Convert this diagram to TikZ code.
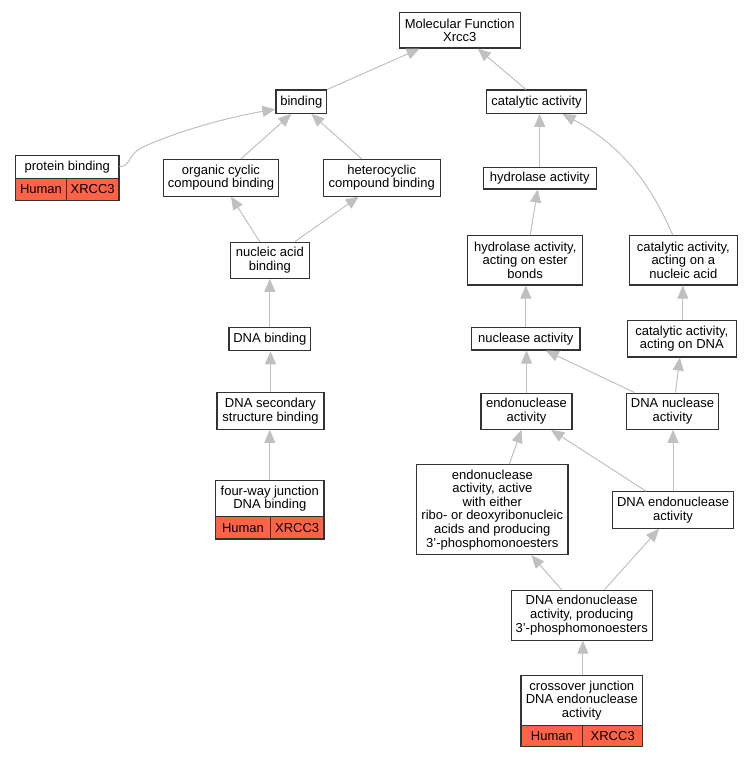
\documentclass[tikz,border=0pt]{standalone}
\usepackage{fontspec}
\setmainfont{Liberation Sans}
\usetikzlibrary{arrows.meta,calc}
\definecolor{edgegray}{HTML}{C0C0C0}
\definecolor{boxline}{HTML}{333333}
\definecolor{hitred}{HTML}{FF6347}
\begin{document}
\begin{tikzpicture}[x=1pt,y=-1pt,
  box/.style={draw=boxline,line width=1.1pt,fill=white,inner sep=0pt,align=center,
    font=\fontsize{13}{13.6}\selectfont},
  cell/.style={draw=boxline,line width=1.1pt,fill=hitred,inner sep=0pt,align=center,
    font=\fontsize{13}{13.6}\selectfont},
  isa/.style={draw=edgegray,line width=1pt,-{Triangle[length=13pt,width=11pt]},color=edgegray}]
\useasboundingbox (0,0) rectangle (752,757);
% left branch
\node[box,minimum width=120.7,minimum height=35.7] (mf) at (459.7,30.2) {Molecular Function\\Xrcc3};
\node[box,minimum width=50.7,minimum height=23.3] (bind) at (301.3,101.7) {binding};
\node[box,minimum width=100.4,minimum height=23.3] (cat) at (536.5,101.7) {catalytic activity};
\node[box,minimum width=103.3,minimum height=23] (pb) at (67.3,166.8) {protein binding};
\node[cell,minimum width=50.6,minimum height=21.7] (pbh) at (41,189.2) {Human};
\node[cell,minimum width=52.7,minimum height=21.7] (pbx) at (92.65,189.2) {XRCC3};
\node[box,minimum width=115.4,minimum height=36.7] (org) at (221,177.7) {organic cyclic\\compound binding};
\node[box,minimum width=116.7,minimum height=36.7] (het) at (381.7,177.7) {heterocyclic\\compound binding};
\node[box,minimum width=79,minimum height=36] (nab) at (269.8,260.3) {nucleic acid\\binding};
\node[box,minimum width=81.7,minimum height=23] (dnab) at (269.8,339.2) {DNA binding};
\node[box,minimum width=107,minimum height=36.6] (dss) at (270.5,411) {DNA secondary\\structure binding};
\node[box,minimum width=108.3,minimum height=36] (fw) at (269.8,498.7) {four-way junction\\DNA binding};
\node[cell,minimum width=54.6,minimum height=22.3] (fwh) at (243,527.8) {Human};
\node[cell,minimum width=53.7,minimum height=22.3] (fwx) at (297.15,527.8) {XRCC3};
% right branch
\node[box,minimum width=112.7,minimum height=21.5] (hyd) at (539.7,178.2) {hydrolase activity};
\node[box,minimum width=115,minimum height=49.3] (hest) at (525.2,260.3) {hydrolase activity,\\acting on ester\\bonds};
\node[box,minimum width=108,minimum height=49.3] (can) at (683.3,260.3) {catalytic activity,\\acting on a\\nucleic acid};
\node[box,minimum width=108.3,minimum height=22.3] (nuc) at (525.8,338.8) {nuclease activity};
\node[box,minimum width=109,minimum height=36.3] (cdna) at (681.8,338.8) {catalytic activity,\\acting on DNA};
\node[box,minimum width=91,minimum height=36.3] (endo) at (526.5,411.2) {endonuclease\\activity};
\node[box,minimum width=92.4,minimum height=36.3] (dnan) at (672.5,411.2) {DNA nuclease\\activity};
\node[box,minimum width=151.3,minimum height=90] (endoa) at (492.3,509.7) {endonuclease\\activity, active\\with either\\ribo- or deoxyribonucleic\\acids and producing\\3'-phosphomonoesters};
\node[box,minimum width=120.6,minimum height=36.6] (dnae) at (673,510) {DNA endonuclease\\activity};
\node[box,minimum width=140.7,minimum height=49.7] (dnap) at (581.7,615.2) {DNA endonuclease\\activity, producing\\3'-phosphomonoesters};
\node[box,minimum width=121.7,minimum height=49.6] (cross) at (581.85,700.5) {crossover junction\\DNA endonuclease\\activity};
\node[cell,minimum width=61.7,minimum height=21] (crh) at (551.85,735.8) {Human};
\node[cell,minimum width=60,minimum height=21] (crx) at (612.7,735.8) {XRCC3};
% edges
\draw[isa] (bind.north east) -- ($(mf.south)+(-40,0)$);
\draw[isa] ($(cat.north)+(-10.5,0)$) -- ($(mf.south)+(18,0)$);
\draw[isa] (pb.east) .. controls (131,166.5) and (128,154) .. (142,147.5) .. controls (180,130) and (230,117) .. ($(bind.west)+(0,7.5)$);
\draw[isa] ($(org.north)+(20,0)$) -- ($(bind.south)+(-10,0)$);
\draw[isa] ($(het.north)+(-20,0)$) -- ($(bind.south)+(10,0)$);
\draw[isa] ($(nab.north)+(-10,0)$) -- ($(org.south)+(10,0)$);
\draw[isa] ($(nab.north)+(25,0)$) -- ($(het.south)+(-23,0)$);
\draw[isa] (dnab.north) -- (dnab.north |- nab.south);
\draw[isa] (dss.north) -- (dss.north |- dnab.south);
\draw[isa] (fw.north) -- (fw.north |- dss.south);
\draw[isa] (hyd.north) -- (hyd.north |- cat.south);
\draw[isa] ($(can.north)+(-10.5,0)$) .. controls (655,195) and (630,150) .. ($(cat.south)+(26,0)$);
\draw[isa] ($(hest.north)+(5,0)$) -- ($(hyd.south)+(-2,0)$);
\draw[isa] (nuc.north) -- (nuc.north |- hest.south);
\draw[isa] ($(cdna.north)+(1,0)$) -- ($(cdna.north |- can.south)+(1,0)$);
\draw[isa] (endo.north) -- (endo.north |- nuc.south);
\draw[isa] ($(dnan.north)+(-38,0)$) -- ($(nuc.south)+(20,0)$);
\draw[isa] ($(dnan.north)+(3,0)$) -- ($(cdna.south)+(-2,0)$);
\draw[isa] ($(endoa.north)+(17,0)$) -- ($(endo.south)+(-5,0)$);
\draw[isa] ($(dnae.north)+(-27,0)$) -- ($(endo.south)+(24.5,0)$);
\draw[isa] (dnae.north) -- (dnae.north |- dnan.south);
\draw[isa] ($(dnap.north)+(-20,0)$) -- ($(endoa.south)+(39,0)$);
\draw[isa] ($(dnap.north)+(22.6,0)$) -- ($(dnae.south)+(-14,0)$);
\draw[isa] ($(cross.north)+(1,0)$) -- ($(cross.north |- dnap.south)+(1,0)$);
\end{tikzpicture}
\end{document}
